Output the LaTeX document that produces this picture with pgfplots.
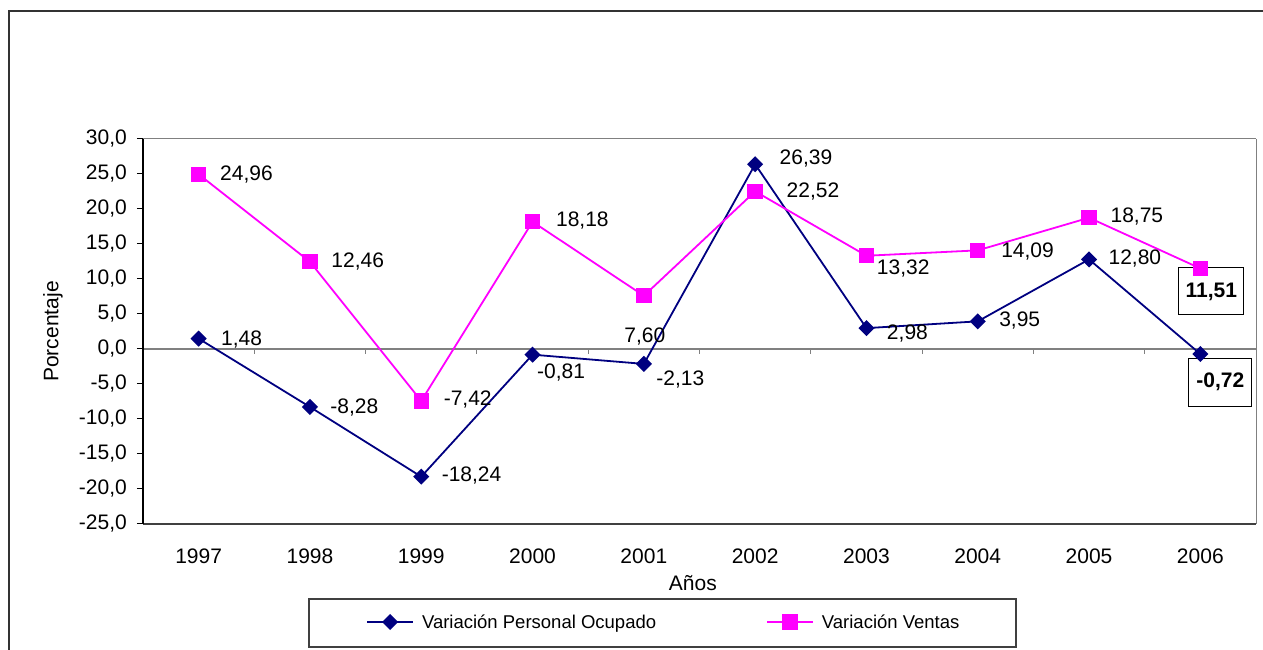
\documentclass[border=0pt]{standalone}
\usepackage{fontspec}
\setmainfont{Liberation Sans}
\usepackage{pgfplots}
\pgfplotsset{compat=1.18}
\definecolor{navy}{HTML}{000080}
\definecolor{mag}{HTML}{FF00FF}
\definecolor{axgray}{HTML}{808080}
\begin{document}
\begin{tikzpicture}[x=1pt,y=1pt,font=\fontsize{21pt}{25pt}\selectfont]
\useasboundingbox (0,0) rectangle (1263,650);
\draw[line width=1.6pt, black!80] (9,639) rectangle (1280,-20);
\draw[line width=1.2pt, black!75] (309,3) rectangle (1016,51);
\begin{axis}[
  at={(143pt,126pt)}, anchor=south west,
  width=1113pt, height=385pt, scale only axis,
  xmin=0, xmax=10, ymin=-25, ymax=30,
  xtick={0.5,1.5,2.5,3.5,4.5,5.5,6.5,7.5,8.5,9.5},
  xticklabels={1997,1998,1999,2000,2001,2002,2003,2004,2005,2006},
  x tick style={draw=none},
  ytick={-25,-20,-15,-10,-5,0,5,10,15,20,25,30},
  y tick style={black, line width=1pt},
  tick align=outside,
  major tick length=6pt,
  ytick pos=left, xtick pos=bottom,
  /pgf/number format/assume math mode=true,
  yticklabel style={anchor=east, inner sep=0pt, xshift=-10pt, /pgf/number format/fixed, /pgf/number format/fixed zerofill, /pgf/number format/precision=1, /pgf/number format/use comma},
  xticklabel style={anchor=center, inner sep=0pt, yshift=-26pt},
  ylabel={Porcentaje},
  ylabel style={at={(axis description cs:-0.0809,0.5)}, anchor=center},
  xlabel={Años},
  xlabel style={at={(axis description cs:0.494,-0.153)}, anchor=center},
  separate axis lines,
  x axis line style={axgray, line width=1pt},
  y axis line style={axgray, line width=1pt},
  clip=false,
  legend columns=2,
  legend style={at={(axis description cs:0.2004,-0.2545)}, anchor=west, draw=none, fill=none, inner sep=0pt,
    nodes={inner sep=0pt}, font=\fontsize{18.5pt}{22pt}\selectfont,
    /tikz/every odd column/.append style={column sep=8pt},
    /tikz/every even column/.append style={column sep=110pt}},
  legend image code/.code={\draw[mark repeat=2, mark phase=2, #1] plot coordinates {(0pt,0pt) (23pt,0pt) (46pt,0pt)};},
]
\draw[axgray, line width=1.5pt] (axis cs:0,0) -- (axis cs:10,0);
\pgfplotsinvokeforeach{1,...,9}{\draw[axgray, line width=1pt] (axis cs:#1,0) -- ++(0pt,-5pt);}
\draw[black!75, line width=1.2pt] (rel axis cs:0,0) -- (rel axis cs:1,0);
\draw[black, line width=1.2pt] (rel axis cs:0,0) -- (rel axis cs:0,1);

\addplot[navy, line width=1.8pt, mark=square*, mark size=4.8pt, mark options={rotate=45, solid, fill=navy}]
 coordinates {(0.5,1.48) (1.5,-8.28) (2.5,-18.24) (3.5,-0.81) (4.5,-2.13) (5.5,26.39) (6.5,2.98) (7.5,3.95) (8.5,12.80) (9.5,-0.72)};
\addlegendentry{Variación Personal Ocupado}
\addplot[mag, line width=1.8pt, mark=square*, mark size=6.8pt, mark options={solid, fill=mag}]
 coordinates {(0.5,24.96) (1.5,12.46) (2.5,-7.42) (3.5,18.18) (4.5,7.60) (5.5,22.52) (6.5,13.32) (7.5,14.09) (8.5,18.75) (9.5,11.51)};
\addlegendentry{Variación Ventas}

% Ventas labels
\node[anchor=west, xshift=18pt] at (axis cs:0.5,24.96) {24,96};
\node[anchor=west, xshift=18pt] at (axis cs:1.5,12.46) {12,46};
\node[anchor=west, xshift=19pt, yshift=1pt] at (axis cs:2.5,-7.42) {-7,42};
\node[anchor=west, xshift=20pt, yshift=1pt] at (axis cs:3.5,18.18) {18,18};
\node[anchor=center, xshift=1pt, yshift=-41pt] at (axis cs:4.5,7.60) {7,60};
\node[anchor=west, xshift=28pt] at (axis cs:5.5,22.52) {22,52};
\node[anchor=west, xshift=7pt, yshift=-13pt] at (axis cs:6.5,13.32) {13,32};
\node[anchor=west, xshift=20pt, yshift=-1pt] at (axis cs:7.5,14.09) {14,09};
\node[anchor=west, xshift=18pt, yshift=1pt] at (axis cs:8.5,18.75) {18,75};
\node[draw=black, line width=1pt, fill=none, minimum width=65pt, minimum height=47pt, inner sep=0pt, anchor=center, xshift=11pt, yshift=-23pt, font=\fontsize{21pt}{25pt}\selectfont\bfseries] at (axis cs:9.5,11.51) {11,51};
% Personal labels
\node[anchor=west, xshift=19pt, yshift=-1pt] at (axis cs:0.5,1.48) {1,48};
\node[anchor=west, xshift=17pt, yshift=-1pt] at (axis cs:1.5,-8.28) {-8,28};
\node[anchor=west, xshift=17pt, yshift=1pt] at (axis cs:2.5,-18.24) {-18,24};
\node[anchor=west, xshift=1pt, yshift=-18pt] at (axis cs:3.5,-0.81) {-0,81};
\node[anchor=west, xshift=9pt, yshift=-16pt] at (axis cs:4.5,-2.13) {-2,13};
\node[anchor=west, xshift=21pt, yshift=6pt] at (axis cs:5.5,26.39) {26,39};
\node[anchor=west, xshift=17pt, yshift=-5pt] at (axis cs:6.5,2.98) {2,98};
\node[anchor=west, xshift=18pt, yshift=1pt] at (axis cs:7.5,3.95) {3,95};
\node[anchor=west, xshift=16pt, yshift=1pt] at (axis cs:8.5,12.80) {12,80};
\node[draw=black, line width=1pt, fill=none, minimum width=63pt, minimum height=48pt, inner sep=0pt, anchor=center, xshift=20pt, yshift=-28pt, font=\fontsize{21pt}{25pt}\selectfont\bfseries] at (axis cs:9.5,-0.72) {-0,72};
\end{axis}
\end{tikzpicture}
\end{document}
